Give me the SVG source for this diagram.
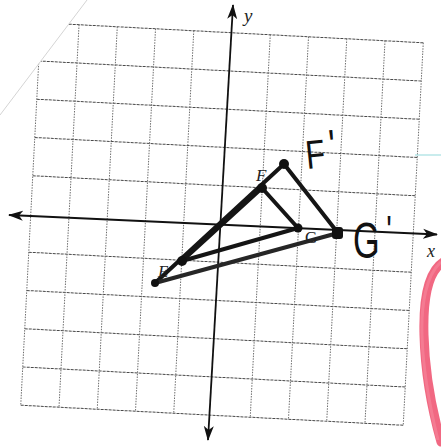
<svg xmlns="http://www.w3.org/2000/svg" width="441" height="447" viewBox="0 0 441 447">
  <style>
    .gh { stroke: #4a4a4a; stroke-width: 1; stroke-dasharray: 3 1; fill: none; }
    .gv { stroke: #6e6e6e; stroke-width: 1; stroke-dasharray: 1.5 1.2; fill: none; }
    .axis { stroke: #111; stroke-width: 1.8; fill: none; }
    .tri { stroke: #151515; stroke-width: 4; stroke-linecap: round; fill: none; }
    .tri2 { stroke: #262626; stroke-width: 4.2; stroke-linecap: round; fill: none; }
    .dot { fill: #111; }
    .print { font-family: "Liberation Serif", "Times New Roman", serif; fill: #222; }
    .hand { font-family: "Liberation Sans", Arial, sans-serif; fill: #111; }
  </style>
  <defs>
    <marker id="arr" markerUnits="userSpaceOnUse" markerWidth="15" markerHeight="11" viewBox="0 0 15 11" refX="14" refY="5.5" orient="auto-start-reverse">
      <path d="M0,0.5 L15,5.5 L0,10.5 L4,5.5 Z" fill="#111"/>
    </marker>
  </defs>
  <rect width="441" height="447" fill="#ffffff"/>

  <g id="grid" transform="translate(222,224) rotate(3)">
    <g id="grid-h">
      <line class="gh" x1="-191.5" y1="-191.5" x2="191.5" y2="-191.5"/>
      <line class="gh" x1="-191.5" y1="-153.2" x2="191.5" y2="-153.2"/>
      <line class="gh" x1="-191.5" y1="-114.9" x2="191.5" y2="-114.9"/>
      <line class="gh" x1="-191.5" y1="-76.6" x2="191.5" y2="-76.6"/>
      <line class="gh" x1="-191.5" y1="-38.3" x2="191.5" y2="-38.3"/>
      <line class="gh" x1="-191.5" y1="38.3" x2="191.5" y2="38.3"/>
      <line class="gh" x1="-191.5" y1="76.6" x2="191.5" y2="76.6"/>
      <line class="gh" x1="-191.5" y1="114.9" x2="191.5" y2="114.9"/>
      <line class="gh" x1="-191.5" y1="153.2" x2="191.5" y2="153.2"/>
      <line class="gh" x1="-191.5" y1="191.5" x2="191.5" y2="191.5"/>
    </g>
    <g id="grid-v">
      <line class="gv" x1="-191.5" y1="-191.5" x2="-191.5" y2="191.5"/>
      <line class="gv" x1="-153.2" y1="-191.5" x2="-153.2" y2="191.5"/>
      <line class="gv" x1="-114.9" y1="-191.5" x2="-114.9" y2="191.5"/>
      <line class="gv" x1="-76.6" y1="-191.5" x2="-76.6" y2="191.5"/>
      <line class="gv" x1="-38.3" y1="-191.5" x2="-38.3" y2="191.5"/>
      <line class="gv" x1="38.3" y1="-191.5" x2="38.3" y2="191.5"/>
      <line class="gv" x1="76.6" y1="-191.5" x2="76.6" y2="191.5"/>
      <line class="gv" x1="114.9" y1="-191.5" x2="114.9" y2="191.5"/>
      <line class="gv" x1="153.2" y1="-191.5" x2="153.2" y2="191.5"/>
      <line class="gv" x1="191.5" y1="-191.5" x2="191.5" y2="191.5"/>
    </g>
  </g>

  <g id="paper-edge">
    <polygon points="0,0 87,0 0,115" fill="#ffffff"/>
    <line x1="0" y1="115" x2="87" y2="0" stroke="#d4d4d4" stroke-width="1"/>
    <line x1="415" y1="155" x2="441" y2="155" stroke="#a6dfe2" stroke-width="1.2"/>
  </g>

  <g id="axes">
    <line class="axis" x1="9" y1="215" x2="437" y2="234.5" marker-start="url(#arr)" marker-end="url(#arr)"/>
    <line class="axis" x1="233" y1="5" x2="208" y2="440" marker-start="url(#arr)" marker-end="url(#arr)"/>
    <text class="print" x="244" y="22" font-size="19" font-style="italic">y</text>
    <text class="print" x="427" y="257" font-size="18" font-style="italic">x</text>
  </g>

  <g id="connectors">
    <line class="tri" x1="182" y1="261" x2="262" y2="188"/>
    <line class="tri" x1="262" y1="188" x2="298" y2="228"/>
    <line class="tri" x1="298" y1="228" x2="182" y2="261"/>
    <line class="tri" x1="155" y1="283" x2="284" y2="164"/>
    <line class="tri" x1="284" y1="164" x2="338" y2="233"/>
    <line class="tri2" x1="338" y1="233" x2="155" y2="283"/>
  </g>

  <g id="node-E">
    <circle class="dot" cx="182" cy="261" r="5"/>
    <text class="print" x="158" y="277" font-size="17" font-style="italic">E</text>
  </g>
  <g id="node-F">
    <circle class="dot" cx="262" cy="188" r="5"/>
    <text class="print" x="256" y="181" font-size="17" font-style="italic">F</text>
  </g>
  <g id="node-G">
    <circle class="dot" cx="298" cy="228" r="4.5"/>
    <text class="print" x="305" y="243" font-size="17">G</text>
  </g>
  <g id="node-E-prime">
    <circle class="dot" cx="155" cy="283" r="4"/>
  </g>
  <g id="node-F-prime">
    <circle class="dot" cx="284" cy="164" r="5"/>
    <text class="hand" x="0" y="0" font-size="40" transform="translate(307,169) rotate(-6) scale(0.8,1)">F<tspan dx="6" dy="-6" font-size="44">'</tspan></text>
  </g>
  <g id="node-G-prime">
    <rect class="dot" x="332" y="227" width="11" height="12" rx="3"/>
    <text class="hand" x="0" y="0" font-size="52" transform="translate(353,258) scale(0.66,0.95)">G<tspan dx="10" dy="-14" font-size="44">'</tspan></text>
  </g>

  <g id="red-mark">
    <path d="M445,261 C428,270 423,300 424,335 C425,375 432,410 441,442" fill="none" stroke="#ef4d6c" stroke-width="9" stroke-linecap="round" opacity="0.85"/>
    <path d="M441,262 C426,275 421,305 422,335 C423,372 430,408 438,440" fill="none" stroke="#f7899d" stroke-width="3" opacity="0.6"/>
  </g>
</svg>
